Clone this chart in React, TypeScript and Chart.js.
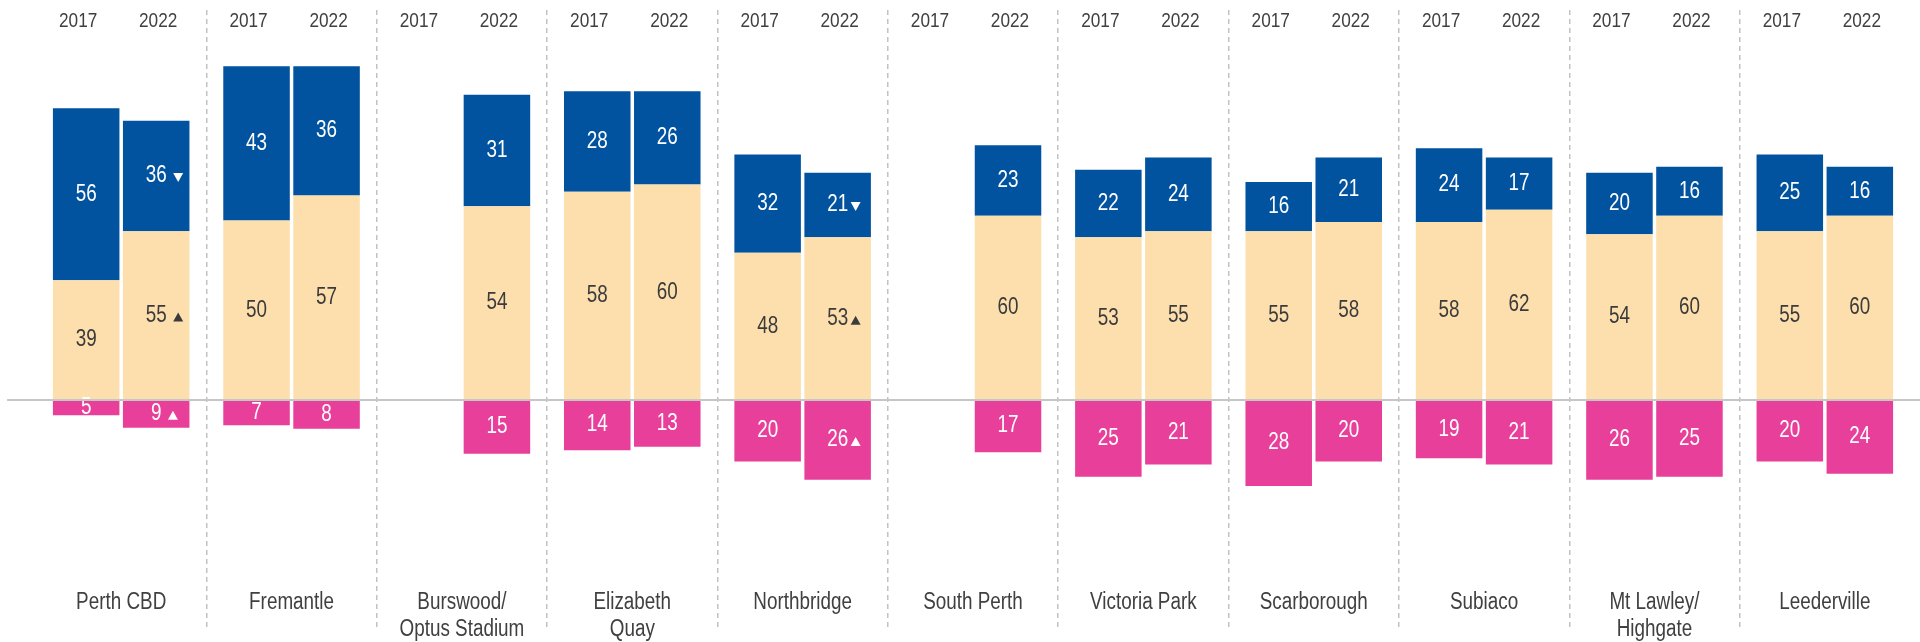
import React, { useEffect, useRef } from 'react';
import { Chart, registerables } from 'chart.js';

Chart.register(...registerables);

// ---------------- data ----------------
const categories = [
  'Perth CBD',
  'Fremantle',
  'Burswood/\nOptus Stadium',
  'Elizabeth\nQuay',
  'Northbridge',
  'South Perth',
  'Victoria Park',
  'Scarborough',
  'Subiaco',
  'Mt Lawley/\nHighgate',
  'Leederville',
];
const years = ['2017', '2022'];

const mid2017 = [39, 50, null, 58, 48, null, 53, 55, 58, 54, 55];
const top2017 = [56, 43, null, 28, 32, null, 22, 16, 24, 20, 25];
const neg2017 = [5, 7, null, 14, 20, null, 25, 28, 19, 26, 20];

const mid2022 = [55, 57, 54, 60, 53, 60, 55, 58, 62, 60, 60];
const top2022 = [36, 36, 31, 26, 21, 23, 24, 21, 17, 16, 16];
const neg2022 = [9, 8, 15, 13, 26, 17, 21, 20, 21, 25, 24];

// significance markers (2022 vs 2017); a leading space means the marker is set apart
const sigTop2022 = [' ▼', null, null, null, '▼', null, null, null, null, null, null];
const sigMid2022 = [' ▲', null, null, null, '▲', null, null, null, null, null, null];
const sigNeg2022 = [' ▲', null, null, null, '▲', null, null, null, null, null, null];

// the original is a composite of panels drawn on two different value scales
const panelAxis = ['yA', 'yB', 'yB', 'yB', 'yA', 'yA', 'yA', 'yA', 'yA', 'yA', 'yA'];

// ---------------- styles ----------------
const BLUE = '#02539F';
const BEIGE = '#FDDFAD';
const PINK = '#E8409A';
const TEXT_DARK = '#3b3b3b';
const YEAR_SHIFT = { '2017': -8, '2022': 2 };

let FONT = '"Liberation Sans", Arial, sans-serif';
let SX = 0.82;

function detectFont() {
  const c = document.createElement('canvas').getContext('2d');
  if (!c) return;
  c.font = '100px "Liberation Sans Narrow", monospace';
  const a = c.measureText('2017 Optus Stadium').width;
  c.font = '100px monospace';
  const b = c.measureText('2017 Optus Stadium').width;
  if (Math.abs(a - b) > 1) {
    FONT = '"Liberation Sans Narrow", sans-serif';
    SX = 1;
  }
}

function drawText(ctx: CanvasRenderingContext2D, text: string, x: number, y: number, size: number, color: string, baseline: CanvasTextBaseline) {
  ctx.save();
  ctx.font = `${size}px ${FONT}`;
  ctx.fillStyle = color;
  ctx.textAlign = 'center';
  ctx.textBaseline = baseline;
  ctx.translate(x, y);
  ctx.scale(SX, 1);
  ctx.fillText(text, 0, 0);
  ctx.restore();
}

function textWidth(ctx: CanvasRenderingContext2D, text: string, size: number) {
  ctx.save();
  ctx.font = `${size}px ${FONT}`;
  const w = ctx.measureText(text).width * SX;
  ctx.restore();
  return w;
}

function drawTri(ctx: CanvasRenderingContext2D, x: number, y: number, up: boolean, color: string, w: number, h: number) {
  ctx.save();
  ctx.fillStyle = color;
  ctx.beginPath();
  if (up) {
    ctx.moveTo(x, y + h / 2);
    ctx.lineTo(x + w, y + h / 2);
    ctx.lineTo(x + w / 2, y - h / 2);
  } else {
    ctx.moveTo(x, y - h / 2);
    ctx.lineTo(x + w, y - h / 2);
    ctx.lineTo(x + w / 2, y + h / 2);
  }
  ctx.closePath();
  ctx.fill();
  ctx.restore();
}

type Series = { year: string; seg: 'mid' | 'top' | 'neg'; values: (number | null)[]; sig: (string | null)[] | null };

const seriesList: Series[] = [
  { year: '2017', seg: 'mid', values: mid2017, sig: null },
  { year: '2017', seg: 'top', values: top2017, sig: null },
  { year: '2017', seg: 'neg', values: neg2017, sig: null },
  { year: '2022', seg: 'mid', values: mid2022, sig: sigMid2022 },
  { year: '2022', seg: 'top', values: top2022, sig: sigTop2022 },
  { year: '2022', seg: 'neg', values: neg2022, sig: sigNeg2022 },
];

const segColor = { mid: BEIGE, top: BLUE, neg: PINK };
const segText = { mid: TEXT_DARK, top: '#ffffff', neg: '#ffffff' };

export default function App() {
  const ref = useRef<HTMLCanvasElement>(null);

  useEffect(() => {
    detectFont();
    const info: { axis: string; s: Series }[] = [];
    const datasets: any[] = [];
    ['yA', 'yB'].forEach((axis) => {
      seriesList.forEach((s) => {
        info.push({ axis, s });
        datasets.push({
          label: `${s.year} ${s.seg}`,
          data: s.values.map((v, i) => (panelAxis[i] === axis && v != null ? (s.seg === 'neg' ? -v : v) : null)),
          stack: s.year,
          yAxisID: axis,
          backgroundColor: segColor[s.seg],
          borderWidth: 0,
          categoryPercentage: 0.822,
          barPercentage: 0.95,
        });
      });
    });

    const labelPlugin = {
      id: 'panelLabels',
      afterDatasetsDraw(chart: any) {
        const ctx: CanvasRenderingContext2D = chart.ctx;
        const xs = chart.scales.x;
        // value labels
        datasets.forEach((_, di) => {
          const { axis, s } = info[di];
          const meta = chart.getDatasetMeta(di);
          meta.data.forEach((el: any, i: number) => {
            const v = s.values[i];
            if (v == null || panelAxis[i] !== axis) return;
            const cx = el.x;
            const cy = (el.y + el.base) / 2;
            const col = segText[s.seg];
            const t = String(v);
            drawText(ctx, t, cx, cy, 23, col, 'middle');
            const sig = s.sig ? s.sig[i] : null;
            if (sig) {
              const w = textWidth(ctx, t, 23);
              const gap = sig.startsWith(' ') ? 6.5 : 2.5;
              drawTri(ctx, cx + w / 2 + gap, cy + 1.5, sig.includes('▲'), col, 10, 9);
            }
          });
        });
        // zero line
        const zy = chart.scales.yA.getPixelForValue(0);
        ctx.save();
        ctx.strokeStyle = '#c6c6c6';
        ctx.lineWidth = 2;
        ctx.beginPath();
        ctx.moveTo(7, zy);
        ctx.lineTo(chart.width, zy);
        ctx.stroke();
        ctx.restore();
        // year labels
        categories.forEach((_, i) => {
          years.forEach((yr) => {
            const di = info.findIndex((d) => d.axis === panelAxis[i] && d.s.year === yr && d.s.seg === 'mid');
            const el = chart.getDatasetMeta(di).data[i];
            if (!el) return;
            drawText(ctx, yr, el.x + YEAR_SHIFT[yr], 21, 21, '#404040', 'middle');
          });
        });
        // category labels
        categories.forEach((c, i) => {
          const cx = xs.getPixelForValue(i);
          c.split('\n').forEach((line, li) => {
            drawText(ctx, line, cx, 609 + li * 27, 23, '#404040', 'alphabetic');
          });
        });
      },
    };

    const chart = new Chart(ref.current as HTMLCanvasElement, {
      type: 'bar',
      data: { labels: categories.map((c) => c.replace('\n', ' ')), datasets },
      options: {
        animation: false,
        responsive: false,
        devicePixelRatio: 1,
        layout: { padding: { left: 36, right: 10, top: 10, bottom: 14 } },
        plugins: { legend: { display: false }, tooltip: { enabled: false } },
        scales: {
          x: {
            type: 'category',
            stacked: true,
            offset: true,
            ticks: { display: false },
            grid: {
              display: true,
              offset: true,
              drawTicks: false,
              lineWidth: 1.5,
              color: (c: any) => (c.index === undefined || c.index === 0 ? 'rgba(0,0,0,0)' : '#c2c2c2'),
            },
            border: { display: false, dash: [5, 4] },
          },
          yA: {
            type: 'linear',
            display: false,
            stacked: true,
            min: -74.27,
            max: 127.04,
          },
          yB: {
            type: 'linear',
            display: false,
            stacked: true,
            min: -63.51,
            max: 108.64,
          },
        },
      },
      plugins: [labelPlugin],
    });
    return () => chart.destroy();
  }, []);

  return (
    <div style={{ position: 'absolute', left: 0, top: 0, width: 1920, height: 642, background: '#ffffff' }}>
      <canvas ref={ref} width={1920} height={642} style={{ display: 'block', width: 1920, height: 642 }} />
    </div>
  );
}
